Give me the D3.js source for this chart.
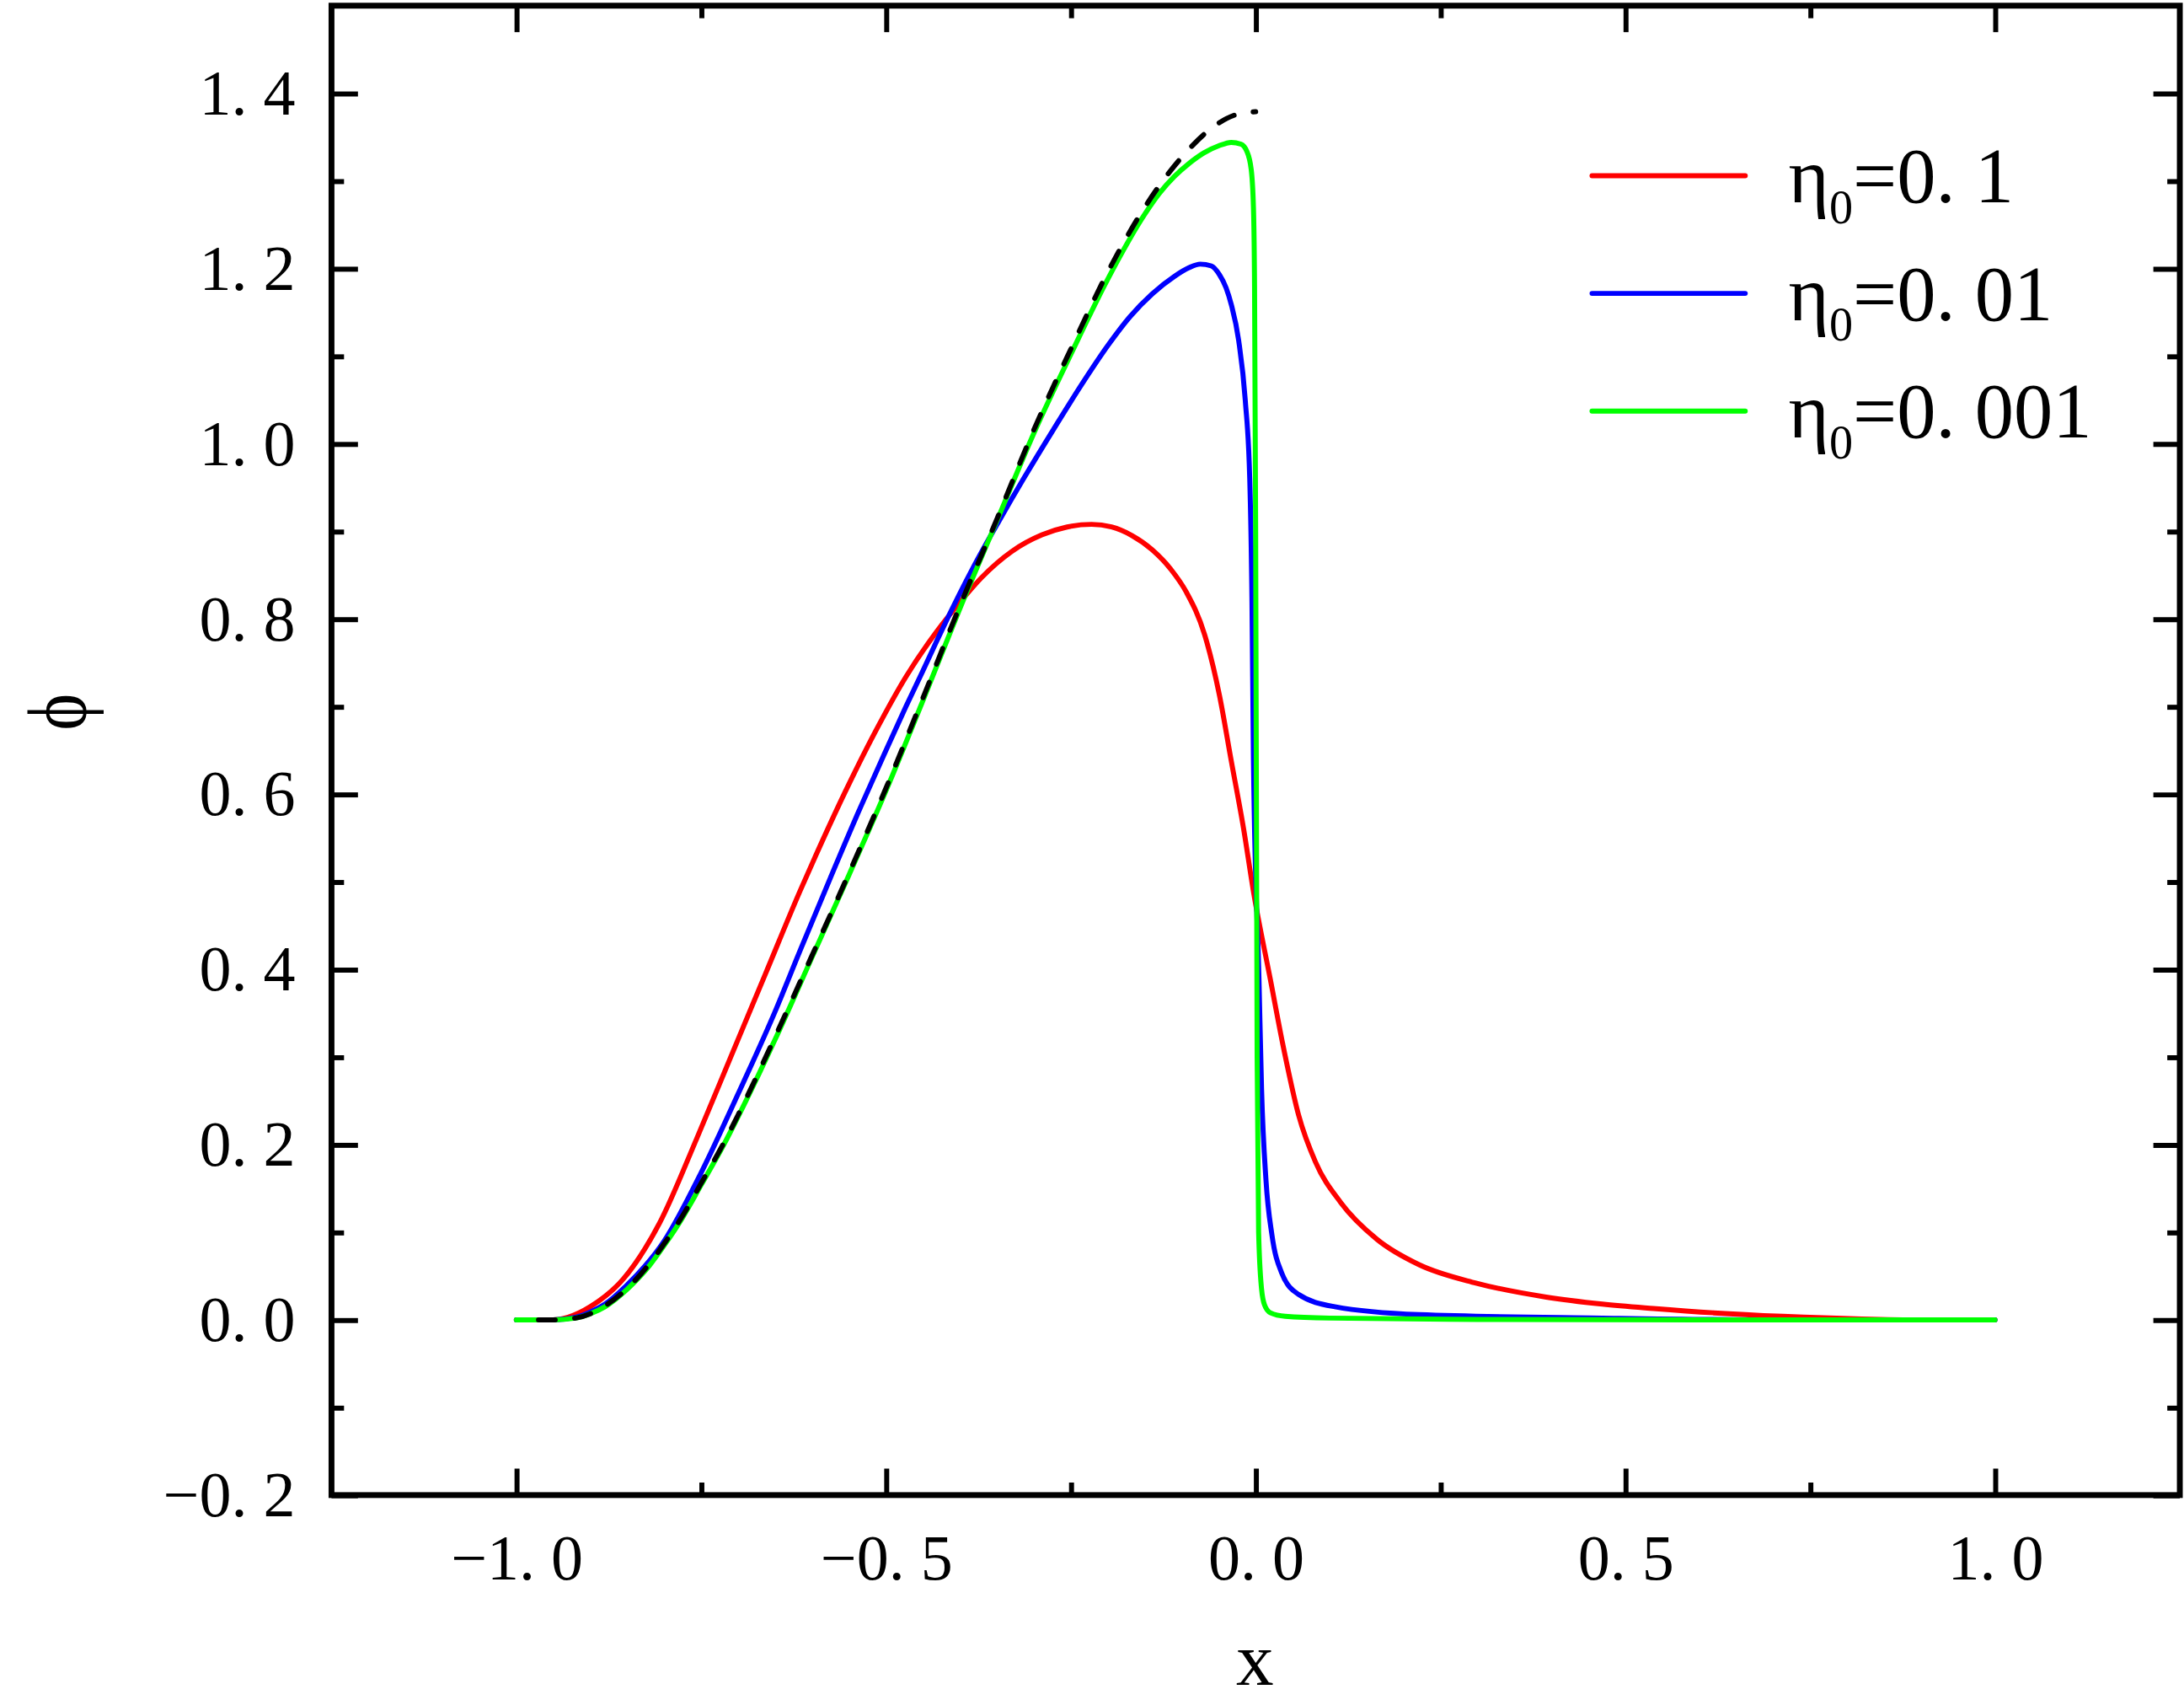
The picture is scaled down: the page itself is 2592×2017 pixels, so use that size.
<!DOCTYPE html>
<html>
<head>
<meta charset="utf-8">
<script src="https://cdn.jsdelivr.net/npm/d3@7/dist/d3.min.js"></script>
<style>
  html, body { margin: 0; padding: 0; background: #fff; }
  text { font-family: "Liberation Serif", "DejaVu Serif", serif; fill: #000; }
</style>
</head>
<body>
<div id="chart"></div>
<script>
// phi(x) profiles for three values of eta0, plus the limiting (dashed) curve

// [x, phi]
var red_data = [
	[-1.0,0],[-0.95,0],[-0.93,0.003],[-0.90,0.015],[-0.855,0.047],[-0.806,0.111],
	[-0.756,0.207],[-0.71,0.300],[-0.663,0.395],[-0.616,0.490],[-0.595,0.530],
	[-0.555,0.603],[-0.514,0.672],[-0.473,0.734],[-0.432,0.785],[-0.40,0.819],
	[-0.371,0.847],[-0.33,0.877],[-0.289,0.896],[-0.255,0.905],[-0.222,0.908],
	[-0.195,0.905],[-0.167,0.895],[-0.14,0.879],[-0.115,0.857],[-0.094,0.831],
	[-0.069,0.782],[-0.049,0.713],[-0.033,0.638],[-0.016,0.559],[-0.003,0.489],
	[0.020,0.388],[0.039,0.305],[0.058,0.234],[0.081,0.180],[0.115,0.134],
	[0.164,0.092],[0.221,0.063],[0.298,0.042],[0.393,0.026],[0.469,0.018],
	[0.538,0.013],[0.62,0.008],[0.713,0.004],[0.82,0.001],[0.9,0],[1.0,0]
];

var blue_data = [
	[-1.0,0],[-0.95,0],[-0.92,0.003],[-0.90,0.009],[-0.88,0.018],[-0.85,0.040],
	[-0.80,0.090],[-0.75,0.168],[-0.70,0.258],[-0.65,0.352],[-0.616,0.422],
	[-0.575,0.505],[-0.534,0.586],[-0.50,0.650],[-0.473,0.700],[-0.45,0.741],
	[-0.424,0.788],[-0.38,0.862],[-0.347,0.912],[-0.314,0.960],[-0.273,1.017],
	[-0.232,1.072],[-0.20,1.112],[-0.17,1.145],[-0.14,1.171],[-0.11,1.191],
	[-0.09,1.201],[-0.075,1.205],[-0.06,1.203],[-0.049,1.193],[-0.04,1.178],
	[-0.033,1.159],[-0.023,1.118],[-0.014,1.049],[-0.008,0.96],[-0.005,0.82],
	[-0.003,0.64],[0.0045,0.388],[0.008,0.263],[0.014,0.159],[0.022,0.097],
	[0.035,0.054],[0.058,0.029],[0.107,0.015],[0.221,0.006],[0.469,0.002],
	[0.7,0],[1.0,0]
];

var green_data = [
	[-1.0,0],[-0.95,0],[-0.92,0.002],[-0.90,0.007],[-0.88,0.015],[-0.85,0.035],
	[-0.82,0.062],[-0.80,0.085],[-0.775,0.117],[-0.75,0.154],[-0.72,0.199],
	[-0.70,0.232],[-0.65,0.320],[-0.60,0.414],[-0.55,0.508],[-0.50,0.604],
	[-0.45,0.707],[-0.40,0.812],[-0.35,0.912],[-0.30,1.012],[-0.25,1.102],
	[-0.20,1.188],[-0.15,1.262],[-0.13,1.286],[-0.11,1.305],[-0.09,1.320],
	[-0.07,1.332],[-0.05,1.340],[-0.033,1.344],[-0.02,1.342],[-0.012,1.334],
	[-0.006,1.313],[-0.003,1.27],[-0.0015,1.18],[0.0,0.9],[0.002,0.3],
	[0.004,0.1],[0.008,0.035],[0.012,0.017],[0.02,0.008],[0.04,0.004],
	[0.1,0.002],[0.3,0.0005],[0.6,0],[1.0,0]
];

var limit_data = [
	[-0.97,0],[-0.95,0],[-0.92,0.002],[-0.90,0.007],[-0.88,0.016],[-0.85,0.036],
	[-0.82,0.064],[-0.80,0.087],[-0.775,0.119],[-0.75,0.156],[-0.72,0.201],
	[-0.70,0.234],[-0.65,0.323],[-0.60,0.416],[-0.55,0.510],[-0.50,0.607],
	[-0.45,0.710],[-0.40,0.815],[-0.35,0.914],[-0.30,1.016],[-0.25,1.108],
	[-0.20,1.196],[-0.15,1.27],[-0.10,1.327],[-0.05,1.366],[-0.025,1.376],[0.0,1.379]
];

var legend_labels = ["0. 1", "0. 01", "0. 001"];
var legend_colors = ["#ff0000", "#0000ff", "#00ff00"];

var x_major = [-1.0, -0.5, 0.0, 0.5, 1.0],
	x_minor = [-0.75, -0.25, 0.25, 0.75];
var y_major = [-0.2, 0.0, 0.2, 0.4, 0.6, 0.8, 1.0, 1.2, 1.4],
	y_minor = [-0.1, 0.1, 0.3, 0.5, 0.7, 0.9, 1.1, 1.3];

// drawing is laid out on a 1568 x 1220 grid and scaled up to the page
var vb_w = 1568, vb_h = 1220;
var m_left = 238, m_right = 1565, m_top = 4, m_bottom = 1073;

var svg = d3.select("#chart")
	.append("svg")
	.attr("width", 2592)
	.attr("height", 2017)
	.attr("viewBox", "0 0 " + vb_w + " " + vb_h);

var x = d3.scaleLinear().domain([-1.25, 1.25]).range([m_left, m_right]);
var y = d3.scaleLinear().domain([-0.2, 1.5]).range([m_bottom, m_top]);

var fmt = function(d) {
	return d3.format(".1f")(d).replace(".", ". ");
};

var tick_w = 3.6, major_len = 19, minor_len = 9;

function style_axis(g) {
	g.select(".domain").remove();
	g.selectAll(".tick line").attr("stroke", "#000").attr("stroke-width", tick_w);
	g.selectAll(".tick text").style("font-family", '"Liberation Serif", serif')
		.attr("font-size", 46).attr("fill", "#000");
}

// bottom
svg.append("g").attr("transform", "translate(0," + m_bottom + ")")
	.call(d3.axisBottom(x).tickValues(x_major).tickSize(-major_len).tickPadding(28).tickFormat(fmt))
	.call(style_axis);
svg.append("g").attr("transform", "translate(0," + m_bottom + ")")
	.call(d3.axisBottom(x).tickValues(x_minor).tickSize(-minor_len).tickFormat(""))
	.call(style_axis);
// top
svg.append("g").attr("transform", "translate(0," + m_top + ")")
	.call(d3.axisTop(x).tickValues(x_major).tickSize(-major_len).tickFormat(""))
	.call(style_axis);
svg.append("g").attr("transform", "translate(0," + m_top + ")")
	.call(d3.axisTop(x).tickValues(x_minor).tickSize(-minor_len).tickFormat(""))
	.call(style_axis);
// left
svg.append("g").attr("transform", "translate(" + m_left + ",0)")
	.call(d3.axisLeft(y).tickValues(y_major).tickSize(-major_len).tickPadding(26).tickFormat(fmt))
	.call(style_axis);
svg.append("g").attr("transform", "translate(" + m_left + ",0)")
	.call(d3.axisLeft(y).tickValues(y_minor).tickSize(-minor_len).tickFormat(""))
	.call(style_axis);
// right
svg.append("g").attr("transform", "translate(" + m_right + ",0)")
	.call(d3.axisRight(y).tickValues(y_major).tickSize(-major_len).tickFormat(""))
	.call(style_axis);
svg.append("g").attr("transform", "translate(" + m_right + ",0)")
	.call(d3.axisRight(y).tickValues(y_minor).tickSize(-minor_len).tickFormat(""))
	.call(style_axis);

// frame
svg.append("rect")
	.attr("x", m_left).attr("y", m_top)
	.attr("width", m_right - m_left).attr("height", m_bottom - m_top)
	.attr("fill", "none").attr("stroke", "#000").attr("stroke-width", 4.2);

var line = d3.line()
	.x(function(d) { return x(d[0]); })
	.y(function(d) { return y(d[1]); })
	.curve(d3.curveMonotoneX);

var series = [
	{ data: red_data, color: legend_colors[0], dash: null },
	{ data: blue_data, color: legend_colors[1], dash: null },
	{ data: green_data, color: legend_colors[2], dash: null },
	{ data: limit_data, color: "#000", dash: "12,14" }
];

svg.selectAll("path.curve")
	.data(series)
	.enter().append("path")
	.attr("class", "curve")
	.attr("d", function(d) { return line(d.data); })
	.attr("fill", "none")
	.attr("stroke", function(d) { return d.color; })
	.attr("stroke-width", 3.6)
	.attr("stroke-linecap", "round")
	.attr("stroke-linejoin", "round")
	.attr("stroke-dasharray", function(d) { return d.dash; });

// legend
var legend = svg.selectAll("g.legend")
	.data(legend_labels)
	.enter().append("g")
	.attr("class", "legend")
	.attr("transform", function(d, i) {
		return "translate(0," + (126 + i * 84.5) + ")";
	});

legend.append("line")
	.attr("x1", 1143).attr("x2", 1253)
	.attr("stroke", function(d, i) { return legend_colors[i]; })
	.attr("stroke-width", 3.6)
	.attr("stroke-linecap", "round");

var lt = legend.append("text")
	.attr("x", 1284).attr("y", 19)
	.attr("font-size", 56);
lt.append("tspan").text("\u03b7");
lt.append("tspan").attr("font-size", 34).attr("dy", 15).text("0");
lt.append("tspan").attr("dy", -15).text(function(d) { return "=" + d; });

// axis titles
svg.append("text")
	.attr("x", 901).attr("y", 1209)
	.attr("text-anchor", "middle")
	.attr("font-size", 54)
	.text("x");

svg.append("text")
	.attr("transform", "translate(62,511) rotate(-90) scale(1,1.2)")
	.attr("text-anchor", "middle")
	.attr("font-size", 50)
	.text("\u03d5");
</script>
</body>
</html>
